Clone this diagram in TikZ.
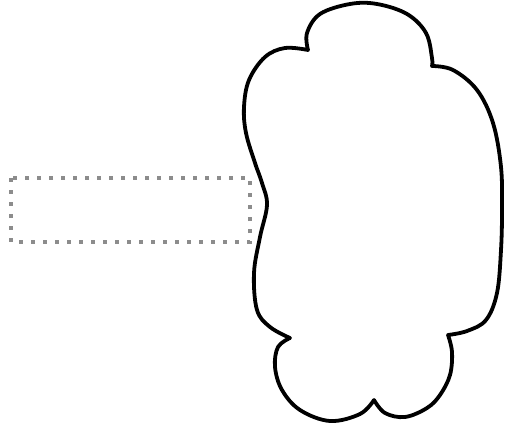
\documentclass[tikz,border=0pt]{standalone}
\tikzset{
  cloudline/.style={draw=black, line width=3.8pt, line join=round},
  dotbox/.style={draw=black!45, line width=4pt, dash pattern=on 4pt off 8pt}
}
\begin{document}
\begin{tikzpicture}[x=1pt,y=-1pt]
\useasboundingbox (0,0) rectangle (506,433);
\draw[dotbox] (11,178) rectangle (250,242);
\draw[cloudline]
  plot[smooth,tension=0.6] coordinates {(308,50) (307,33) (320,14) (350,4) (377,4) (407,14) (426,33) (432,58) (432,66)}
  -- plot[smooth,tension=0.6] coordinates {(432,66) (453,70) (477,90) (493,123) (501,167) (502,210) (501,250) (497,293) (486,320) (467,331) (448,335)}
  -- plot[smooth,tension=0.6] coordinates {(448,335) (452,352) (450,375) (440,395) (427,408) (405,417) (385,413) (374,400)}
  -- plot[smooth,tension=0.6] coordinates {(374,400) (360,414) (330,421) (300,410) (282,390) (275,367) (278,347) (290,338)}
  -- plot[smooth,tension=0.6] coordinates {(290,338) (270,327) (257,310) (254,273) (260,237) (267,205) (262,183) (255,163) (246,133) (244,107) (249,80) (265,57) (285,48) (308,50)}
  -- cycle;
\end{tikzpicture}
\end{document}
